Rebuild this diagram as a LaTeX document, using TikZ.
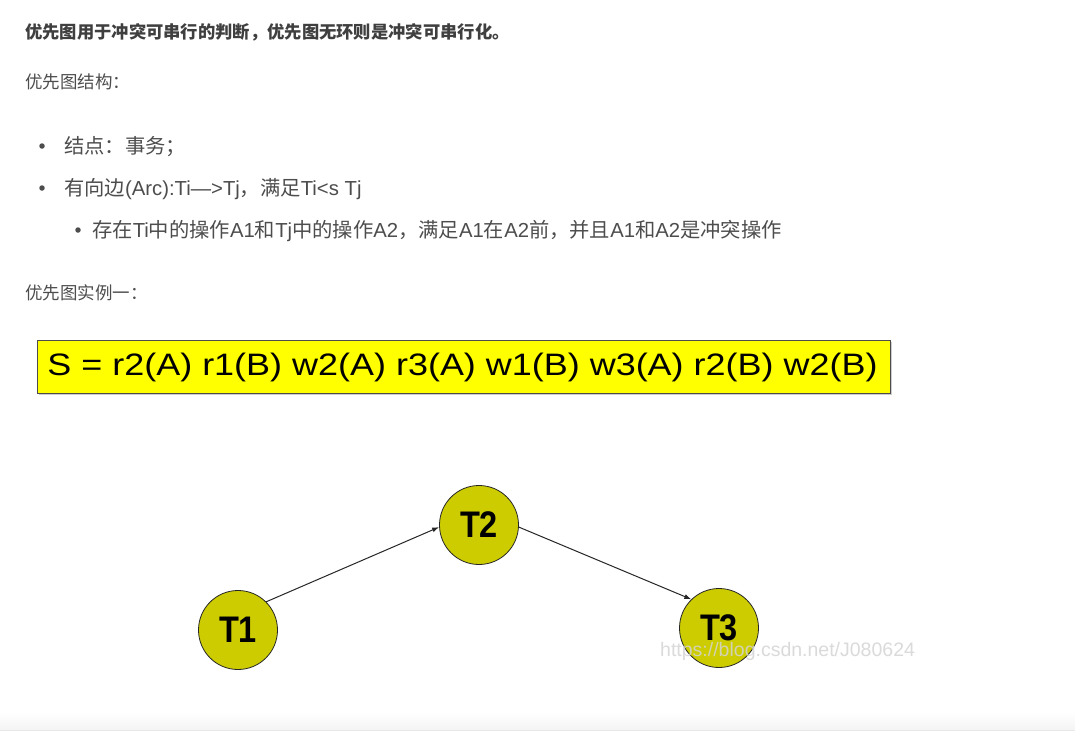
\documentclass[tikz,border=0pt]{standalone}
\usepackage{fontspec}
\setmainfont{Liberation Sans}
\newfontfamily\cjk{Noto Sans CJK SC}
\usetikzlibrary{arrows.meta}
\definecolor{txt}{HTML}{4D4D4D}
\definecolor{head}{HTML}{3F3F3F}
\definecolor{boxyellow}{HTML}{FFFF00}
\definecolor{nodeolive}{HTML}{CCCC00}
\definecolor{wm}{HTML}{D4D4D4}
\definecolor{bandgray}{HTML}{F4F4F4}
\definecolor{bandline}{HTML}{E8E8E8}
\tikzset{
  para/.style={anchor=base west, inner sep=0pt, text=txt, font=\fontsize{17.5}{21}\selectfont},
  item/.style={anchor=base west, inner sep=0pt, text=txt, font=\fontsize{20.3}{24}\selectfont},
  headline/.style={anchor=base west, inner sep=0pt, text=head, font=\fontsize{17.3}{21}\selectfont\cjk\bfseries},
  bulletdot/.style={circle, fill=txt, inner sep=0pt, minimum size=5.5pt},
  txnode/.style={circle, draw=black!85, line width=0.8pt, fill=nodeolive, minimum size=79pt, inner sep=0pt,
    font=\fontsize{37}{40}\selectfont\bfseries},
  arc/.style={-{Latex[length=7pt,width=5pt]}, line width=1pt, black!85},
}
\begin{document}
\begin{tikzpicture}[x=1pt,y=-1pt]
\useasboundingbox (0,0) rectangle (1075,744);
\fill[white] (0,0) rectangle (1075,744);
% bottom band
\shade[top color=white, bottom color=bandgray] (0,712) rectangle (1075,730);
\draw[bandline, line width=0.8pt] (0,730) -- (1075,730);

\node[headline] (h1) at (25,38) {优先图用于冲突可串行的判断，优先图无环则是冲突可串行化。};
\node[para] (h2) at (25,88) {\cjk 优先图结构：};
\node[bulletdot] (b1) at (42,146) {};
\node[item] (l1) at (64,153) {\cjk 结点：事务；};
\node[bulletdot] (b2) at (42,188) {};
\node[item] (l2) at (64,195) {{\cjk 有向边}(Arc):Ti—>Tj{\cjk ，满足}Ti<s Tj};
\node[bulletdot] (b3) at (78,230) {};
\node[item] (l3) at (92,237) {{\cjk 存在}Ti{\cjk 中的操作}A1{\cjk 和}Tj{\cjk 中的操作}A2{\cjk ，满足}A1{\cjk 在}A2{\cjk 前，并且}A1{\cjk 和}A2{\cjk 是冲突操作}};
\node[para] (h3) at (25,299) {\cjk 优先图实例一：};

% schedule box
\fill[black!20] (39,342) rectangle (892,395);
\node[draw=black!70, line width=0.6pt, fill=boxyellow, minimum width=853pt, minimum height=53pt, inner sep=0pt, anchor=north west] (sbox) at (37,340) {};
\node[inner sep=0pt, text=black] (stext) at (462.5,367) {\scalebox{1.16}[1]{\fontsize{31}{34}\selectfont S = r2(A) r1(B) w2(A) r3(A) w1(B) w3(A) r2(B) w2(B)}};

% precedence graph
\node[txnode] (t1) at (238,630) {\scalebox{0.88}[1]{T1}};
\node[txnode] (t2) at (479,525) {\scalebox{0.88}[1]{T2}};
\node[txnode] (t3) at (719,628) {\scalebox{0.88}[1]{T3}};
\draw[arc] (t1.45) -- (t2.183);
\draw[arc] (t2.357) -- (t3.134);

% watermark
\node[anchor=base west, inner sep=0pt, text=wm, text opacity=0.85, font=\fontsize{19.5}{22}\selectfont] (wmark) at (660,656) {https://blog.csdn.net/J080624};
\end{tikzpicture}
\end{document}
